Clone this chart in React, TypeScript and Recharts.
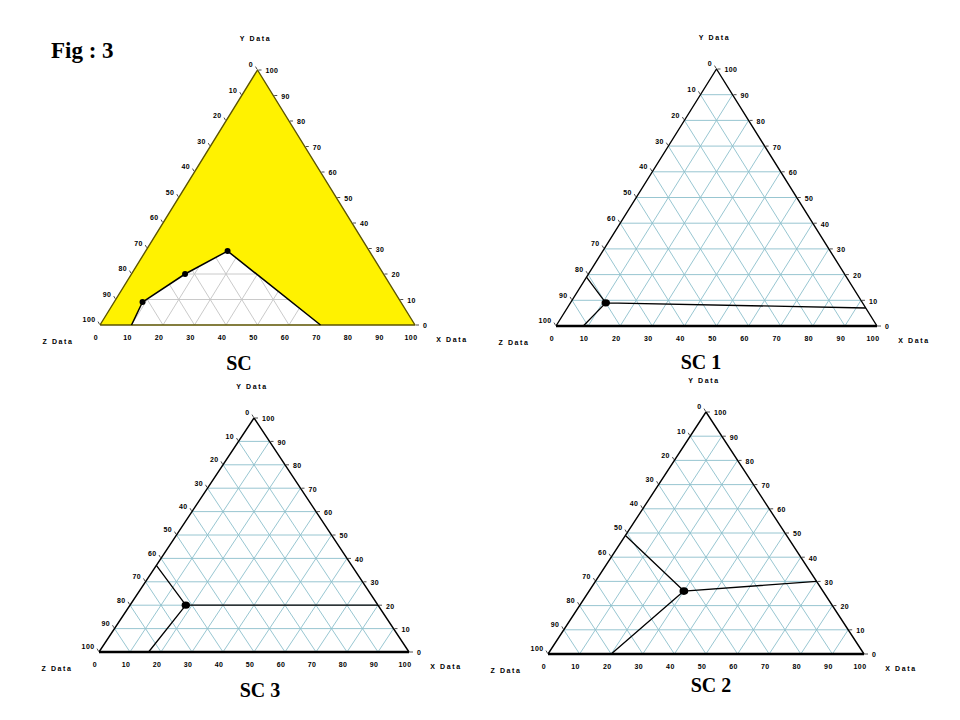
import React from "react";
import { ScatterChart, Scatter, XAxis, YAxis } from "recharts";

// shared axis values (percent)
const tickValues = [0, 10, 20, 30, 40, 50, 60, 70, 80, 90, 100];
const gridValues = [10, 20, 30, 40, 50, 60, 70, 80, 90];
const cornerTitles = ["Z Data", "X Data", "Y Data"];

// SC: boundary of the unshaded region, [X, Y, Z]
const scBoundary = [
  [10, 0, 90],
  [9, 9, 82],
  [17, 20, 63],
  [26, 29, 45],
  [70, 0, 30],
];
const scMarked = [
  [9, 9, 82],
  [17, 20, 63],
  [26, 29, 45],
];

// SC 1 / SC 3 / SC 2: composition point and where its three lines meet the edges
const sc1Point = [11, 9, 80];
const sc1Ends = [[0, 19, 81], [8.5, 0, 91.5], [93, 7, 0]];
const sc3Point = [18, 20, 62];
const sc3Ends = [[0, 37, 63], [16, 0, 84], [80, 20, 0]];
const sc2Point = [30, 26, 44];
const sc2Ends = [[0, 49, 51], [20, 0, 80], [70, 30, 0]];

const ML = 60, MR = 60, MT = 45, MB = 45;
const LABEL_FONT = "'Liberation Sans', Arial, sans-serif";
const SERIF = "'Liberation Serif', 'Times New Roman', serif";

function toXY(t: number[]) {
  const [x, y, z] = t;
  const s = x + y + z;
  return { u: (x + y / 2) / s, v: y / s };
}

const cornerPts = [[0, 0, 100], [100, 0, 0], [0, 100, 0]];
const outline = [[0, 0, 100], [0, 100, 0], [100, 0, 0], [0, 0, 100]].map(toXY);
const baseEdge = [[0, 0, 100], [100, 0, 0]].map(toXY);
const gridSegments = gridValues
  .flatMap((g) => [
    [g, 0, 100 - g], [g, 100 - g, 0],
    [0, g, 100 - g], [100 - g, g, 0],
    [100 - g, 0, g], [0, 100 - g, g],
  ])
  .map(toXY);

const zLabels = tickValues.map((t) => ({ ...toXY([0, 100 - t, t]), label: t }));
const yLabels = tickValues.map((t) => ({ ...toXY([100 - t, t, 0]), label: t }));
const xLabels = tickValues.map((t) => ({ ...toXY([t, 0, 100 - t]), label: t }));
const titles = cornerPts.map((c, i) => ({ ...toXY(c), label: cornerTitles[i] }));

const TITLE_OFFSET: Record<string, [number, number]> = {
  "Y Data": [-2, -29],
  "Z Data": [-42, 19],
  "X Data": [37, 17],
};

// pairs of points -> separate segments
function Segs(props: any) {
  const pts = props.points || [];
  let d = "";
  for (let i = 0; i + 1 < pts.length; i += 2) {
    d += `M${pts[i].x},${pts[i].y}L${pts[i + 1].x},${pts[i + 1].y}`;
  }
  return <path d={d} fill="none" stroke={props.ink} strokeWidth={props.weight} />;
}

function Poly(props: any) {
  const pts = props.points || [];
  const d = pts.map((p: any, i: number) => `${i ? "L" : "M"}${p.x},${p.y}`).join("") + (props.closed ? "Z" : "");
  return (
    <path
      d={d}
      fill={props.paint || "none"}
      stroke={props.ink || "none"}
      strokeWidth={props.weight || 0}
      strokeLinejoin="round"
    />
  );
}

const NoDot = () => <g />;

const txt = { fontFamily: LABEL_FONT, fontSize: 7, fontWeight: 700, fill: "#000", letterSpacing: 0.4 } as const;

const ZTick = (p: any) => (
  <g>
    <line x1={p.cx - 0.5} y1={p.cy - 0.8} x2={p.cx - 2} y2={p.cy - 3.4} stroke="#222" strokeWidth={0.8} />
    <text x={p.cx - 4.5} y={p.cy - 2.6} textAnchor="end" {...txt}>{p.payload.label}</text>
  </g>
);
const YTick = (p: any) => (
  <g>
    <line x1={p.cx + 1} y1={p.cy} x2={p.cx + 4} y2={p.cy} stroke="#222" strokeWidth={0.8} />
    <text x={p.cx + 8} y={p.cy + 3.4} textAnchor="start" {...txt}>{p.payload.label}</text>
  </g>
);
const XTick = (p: any) => (
  <text x={p.cx - 4} y={p.cy + 14.8} textAnchor="middle" {...txt}>{p.payload.label}</text>
);
const Title = (p: any) => {
  const [dx, dy] = TITLE_OFFSET[p.payload.label];
  return (
    <text x={p.cx + dx} y={p.cy + dy} textAnchor="middle" {...txt} fontSize={7} letterSpacing={1.6}>
      {p.payload.label}
    </text>
  );
};

function Ternary({ box, gridColor, edgeColor, thickBase, under, over }: any) {
  return (
    <div style={{ position: "absolute", left: box.left - ML, top: box.top - MT }}>
      <ScatterChart
        width={box.w + ML + MR}
        height={box.h + MT + MB}
        margin={{ top: MT, right: MR, bottom: MB, left: ML }}
      >
        <XAxis type="number" dataKey="u" domain={[0, 1]} hide />
        <YAxis type="number" dataKey="v" domain={[0, 1]} hide />
        <Scatter data={gridSegments} shape={NoDot} line={<Segs ink={gridColor} weight={0.9} />} isAnimationActive={false} />
        {under}
        <Scatter data={outline} shape={NoDot} line={<Poly ink={edgeColor} weight={1.4} />} isAnimationActive={false} />
        {thickBase ? (
          <Scatter data={baseEdge} shape={NoDot} line={<Segs ink="#000" weight={2.6} />} isAnimationActive={false} />
        ) : null}
        {over}
        <Scatter data={zLabels} shape={ZTick} isAnimationActive={false} />
        <Scatter data={yLabels} shape={YTick} isAnimationActive={false} />
        <Scatter data={xLabels} shape={XTick} isAnimationActive={false} />
        <Scatter data={titles} shape={Title} isAnimationActive={false} />
      </ScatterChart>
    </div>
  );
}

function tieLayers(point: number[], ends: number[][], r: number) {
  const segs = ends.flatMap((e) => [toXY(point), toXY(e)]);
  return [
    <Scatter key="ties" data={segs} shape={NoDot} line={<Segs ink="#000" weight={1.3} />} isAnimationActive={false} />,
    <Scatter
      key="pt"
      data={[toXY(point)]}
      shape={(p: any) => <ellipse cx={p.cx} cy={p.cy} rx={r + 0.6} ry={r} fill="#000" />}
      isAnimationActive={false}
    />,
  ];
}

const scYellow = [[0, 0, 100], [0, 100, 0], [100, 0, 0], ...scBoundary.slice().reverse()].map(toXY);

export default function App() {
  return (
    <div style={{ position: "absolute", left: 0, top: 0, width: 960, height: 720, background: "#fff", overflow: "hidden" }}>
      <Ternary
        box={{ left: 100, top: 70, w: 315, h: 255 }}
        gridColor="#c4c4c4"
        edgeColor="#5c5400"
        under={[
          <Scatter key="fill" data={scYellow} shape={NoDot} line={<Poly paint="#fff200" closed />} isAnimationActive={false} />,
        ]}
        over={[
          <Scatter key="bd" data={scBoundary.map(toXY)} shape={NoDot} line={<Poly ink="#000" weight={1.5} />} isAnimationActive={false} />,
          <Scatter
            key="dots"
            data={scMarked.map(toXY)}
            shape={(p: any) => <circle cx={p.cx} cy={p.cy} r={3} fill="#000" />}
            isAnimationActive={false}
          />,
        ]}
      />
      <Ternary
        box={{ left: 556, top: 69, w: 321, h: 257 }}
        gridColor="#8cc0cc"
        edgeColor="#000"
        thickBase
        over={tieLayers(sc1Point, sc1Ends, 3.6)}
      />
      <Ternary
        box={{ left: 99, top: 418, w: 310, h: 234 }}
        gridColor="#8cc0cc"
        edgeColor="#000"
        thickBase
        over={tieLayers(sc3Point, sc3Ends, 3.6)}
      />
      <Ternary
        box={{ left: 548, top: 412, w: 316, h: 242 }}
        gridColor="#8cc0cc"
        edgeColor="#000"
        thickBase
        over={tieLayers(sc2Point, sc2Ends, 3.8)}
      />
      <svg width={960} height={720} style={{ position: "absolute", left: 0, top: 0, pointerEvents: "none" }}>
        <text x={51} y={58} fontFamily={SERIF} fontWeight={700} fontSize={23} fill="#000">Fig : 3</text>
        <text x={239} y={370} textAnchor="middle" fontFamily={SERIF} fontWeight={700} fontSize={20} fill="#000">SC</text>
        <text x={701} y={369} textAnchor="middle" fontFamily={SERIF} fontWeight={700} fontSize={20} fill="#000">SC 1</text>
        <text x={260} y={697} textAnchor="middle" fontFamily={SERIF} fontWeight={700} fontSize={20} fill="#000">SC 3</text>
        <text x={711} y={692} textAnchor="middle" fontFamily={SERIF} fontWeight={700} fontSize={20} fill="#000">SC 2</text>
      </svg>
    </div>
  );
}
